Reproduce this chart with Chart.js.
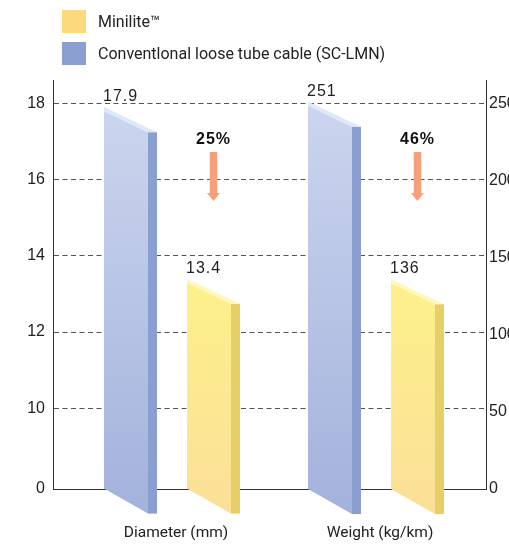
<!DOCTYPE html>
<html><head><meta charset="utf-8">
<script src="https://cdn.jsdelivr.net/npm/chart.js@4.4.1/dist/chart.umd.min.js"></script>
<style>
html,body{margin:0;padding:0;background:#fff;}
#wrap{position:relative;width:509px;height:544px;overflow:hidden;}
#legend{position:absolute;left:62px;top:10px;font-family:Roboto,sans-serif;font-size:16px;color:#222;}
.item{display:flex;align-items:center;height:23px;margin-bottom:8.7px;white-space:nowrap;}
.sw{width:24px;height:23px;margin-right:12px;flex:none;}
</style></head><body>
<div id="wrap"><canvas id="c" width="509" height="544"></canvas><div id="legend"></div></div>
<script>
// ---- data ----
const categories = ['Diameter (mm)', 'Weight (kg/km)'];
const seriesNames = ['Minilite\u2122', 'Conventlonal loose tube cable (SC-LMN)'];
const miniliteValues = [13.4, 136];
const conventionalValues = [17.9, 251];
const leftTickValues = [10, 12, 14, 16, 18];
const leftBreakLabel = '0';
const rightTickValues = [0, 50, 100, 150, 200, 250];
const axisForCategory = ['yL', 'yR'];
// axis ranges (left axis is broken: its bottom is labelled 0)
const leftRange = [7.883, 18.611];
const rightRange = [0, 265];
const axisBase = [leftRange[0], rightRange[0]];

// ---- styles ----
const palette = [
  {front: ['#fdf18a', '#fbdf98'], side: '#e6cf66', top: '#fff8b8', legend: '#fcd97a'},
  {front: ['#cbd5ee', '#a3b2dc'], side: '#8a9fd0', top: '#dde9f8', legend: '#8b9fd1'}
];
const arrowColor = '#f5a07a';

// legend (HTML)
const legendEl = document.getElementById('legend');
seriesNames.forEach((name, i) => {
  const row = document.createElement('div'); row.className = 'item';
  const sw = document.createElement('div'); sw.className = 'sw'; sw.style.background = palette[i].legend;
  const tx = document.createElement('span'); tx.textContent = name;
  row.appendChild(sw); row.appendChild(tx); legendEl.appendChild(row);
});

// datasets: one per (category, series) so each category can use its own value axis
const datasets = [];
categories.forEach((cat, i) => {
  datasets.push({label: seriesNames[1], series: 1, yAxisID: axisForCategory[i], base: axisBase[i],
    data: [{x: i, y: conventionalValues[i]}], backgroundColor: 'rgba(0,0,0,0)', borderWidth: 0});
  datasets.push({label: seriesNames[0], series: 0, yAxisID: axisForCategory[i], base: axisBase[i],
    data: [{x: i, y: miniliteValues[i]}], backgroundColor: 'rgba(0,0,0,0)', borderWidth: 0});
});

const bars3d = {
  id: 'bars3d',
  afterDatasetsDraw(chart) {
    const ctx = chart.ctx;
    const tops = {};
    chart.data.datasets.forEach((ds, di) => {
      const meta = chart.getDatasetMeta(di);
      const pal = palette[ds.series];
      meta.data.forEach((el, j) => {
        const {x, y, base, width} = el.getProps(['x', 'y', 'base', 'width'], true);
        const side = width * 9 / 53;
        const L = x - width / 2, S = x + width / 2, R = S - side;
        const D = (R - L) * 0.57, band = 4;
        ctx.save();
        const g = ctx.createLinearGradient(0, y, 0, base + D);
        g.addColorStop(0, pal.front[0]); g.addColorStop(1, pal.front[1]);
        ctx.fillStyle = g;
        ctx.beginPath();
        ctx.moveTo(L, y + band); ctx.lineTo(R, y + D); ctx.lineTo(R, base + D); ctx.lineTo(L, base);
        ctx.closePath(); ctx.fill();
        ctx.fillStyle = pal.side;
        ctx.fillRect(R, y + D, side, base - y);
        ctx.fillStyle = pal.top;
        ctx.beginPath();
        ctx.moveTo(L, y); ctx.lineTo(S, y + D); ctx.lineTo(R, y + D); ctx.lineTo(L, y + band);
        ctx.closePath(); ctx.fill();
        // value label
        ctx.fillStyle = '#222';
        ctx.font = '16px "Liberation Sans", Arial, sans-serif';
        ctx.letterSpacing = '1px';
        ctx.textAlign = 'left'; ctx.textBaseline = 'alphabetic';
        ctx.fillText(String(ds.data[j].y), L - 1, y - 6);
        ctx.restore();
        tops[ds.data[j].x + '_' + ds.series] = {x, value: ds.data[j].y};
      });
    });
    // reduction annotations
    const top = chart.chartArea.top;
    categories.forEach((c, i) => {
      const conv = tops[i + '_1'], mini = tops[i + '_0'];
      if (!conv || !mini) return;
      const pct = Math.round((conv.value - mini.value) / conv.value * 100);
      const ax = mini.x;
      ctx.save();
      ctx.fillStyle = '#111';
      ctx.font = 'bold 16px "Liberation Sans", Arial, sans-serif';
      ctx.letterSpacing = '1px';
      ctx.textAlign = 'center'; ctx.textBaseline = 'middle';
      ctx.fillText(pct + '%', ax, top + 60);
      ctx.fillStyle = arrowColor;
      ctx.fillRect(ax - 3.75, top + 72, 7.5, 41);
      ctx.beginPath();
      ctx.moveTo(ax - 6.5, top + 113); ctx.lineTo(ax + 6.5, top + 113); ctx.lineTo(ax, top + 121);
      ctx.closePath(); ctx.fill();
      ctx.restore();
    });
  }
};

const tickFont = {family: '"Liberation Sans", Arial, sans-serif', size: 16};

new Chart(document.getElementById('c'), {
  type: 'bar',
  data: {datasets},
  options: {
    responsive: false, animation: false, events: [],
    layout: {padding: {top: 80, left: 0, right: 0, bottom: 0}},
    datasets: {bar: {grouped: true, skipNull: true, categoryPercentage: 0.8137, barPercentage: 0.6386}},
    plugins: {legend: {display: false}, tooltip: {enabled: false}},
    scales: {
      x: {
        type: 'linear', min: -0.5833, max: 1.5392, offset: false,
        afterBuildTicks: s => { s.ticks = categories.map((c, i) => ({value: i})); },
        ticks: {callback: v => categories[v], font: {family: 'Roboto, sans-serif', size: 15.5}, color: '#222',
          padding: 35, labelOffset: 4, maxRotation: 0, autoSkip: false},
        grid: {display: false, drawTicks: false, offset: false},
        border: {color: '#333', width: 1},
        afterFit: s => { s.height = 55; }
      },
      yL: {
        type: 'linear', position: 'left', min: leftRange[0], max: leftRange[1],
        afterBuildTicks: s => { s.ticks = [{value: s.min}].concat(leftTickValues.map(v => ({value: v}))); },
        ticks: {callback: (v, i) => i === 0 ? leftBreakLabel : String(v), font: tickFont, color: '#222', padding: 8},
        grid: {color: c => c.index === 0 ? 'rgba(0,0,0,0)' : '#555', lineWidth: 1, drawTicks: false},
        border: {color: '#333', width: 1, dash: [5, 3.5]},
        afterFit: s => { s.width = 53; }
      },
      yR: {
        type: 'linear', position: 'right', min: rightRange[0], max: rightRange[1],
        afterBuildTicks: s => { s.ticks = rightTickValues.map(v => ({value: v})); },
        ticks: {font: tickFont, color: '#222', padding: 3},
        grid: {display: false, drawTicks: false},
        border: {color: '#333', width: 1},
        afterFit: s => { s.width = 23; }
      }
    }
  },
  plugins: [bars3d]
});
</script>
</body></html>
